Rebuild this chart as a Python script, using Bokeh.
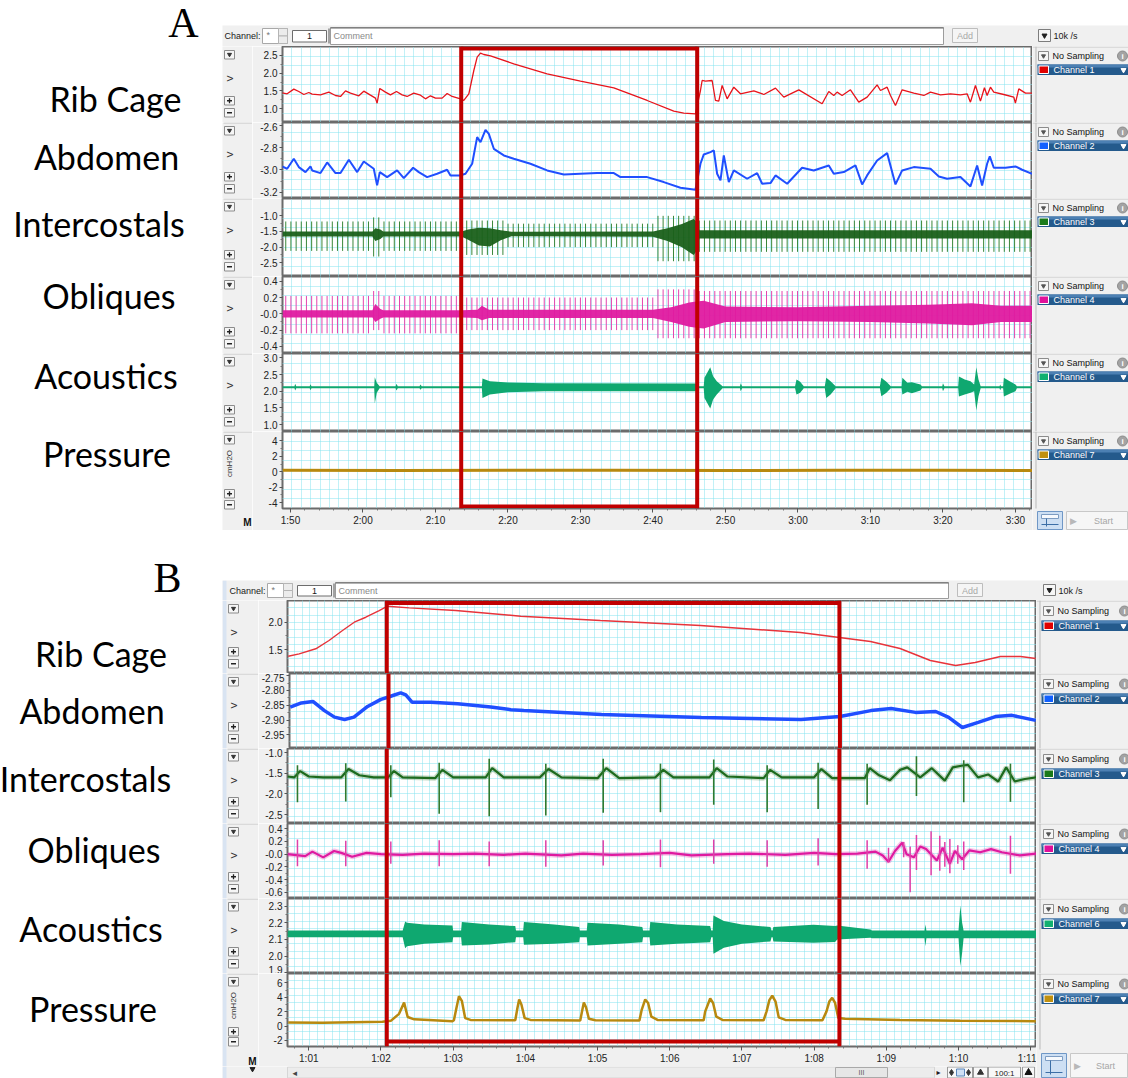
import numpy as np
from math import pi
from bokeh.plotting import figure
from bokeh.layouts import row, column
from bokeh.models import Range1d, FixedTicker, Span, CustomJSTickFormatter, Plot
from bokeh.core.properties import value
from bokeh.embed import file_html
from bokeh.resources import INLINE

# ---------------------------------------------------------------- data
channel_names = ["Rib Cage", "Abdomen", "Intercostals", "Obliques", "Acoustics", "Pressure"]
channel_ids = ["Channel 1", "Channel 2", "Channel 3", "Channel 4", "Channel 6", "Channel 7"]
channel_units = ["V", "V", "V", "V", "V", "cmH2O"]
trace_colors = ["#e8141b", "#1f4fff", "#1d6a1d", "#df1aa0", "#0fa870", "#b8890f"]
icon_colors = ["#e00000", "#1060ff", "#1a7a1a", "#e0109a", "#10b070", "#c09010"]
panel_letters = ["A", "B"]

# ---- panel A (time in seconds)
time_ticks_a = [110, 120, 130, 140, 150, 160, 170, 180, 190, 200, 210]
time_labels_a = ["1:50", "2:00", "2:10", "2:20", "2:30", "2:40", "2:50", "3:00", "3:10", "3:20", "3:30"]
view_a = [108.9, 212.35]
highlight_a = [133.55, 166.1]
yview_a = [[0.607, 2.754], [-3.257, -2.572], [-2.938, -0.446], [-0.487, 0.458], [0.793, 3.129], [-4.77, 5.23]]
yticks_a = [[1.0, 1.5, 2.0, 2.5], [-3.2, -3.0, -2.8, -2.6], [-2.5, -2.0, -1.5, -1.0],
            [-0.4, -0.2, 0.0, 0.2, 0.4], [1.0, 1.5, 2.0, 2.5, 3.0], [-4, -2, 0, 2, 4]]
ylabels_a = [["1.0", "1.5", "2.0", "2.5"], ["-3.2", "-3.0", "-2.8", "-2.6"], ["-2.5", "-2.0", "-1.5", "-1.0"],
             ["-0.4", "-0.2", "-0.0", "0.2", "0.4"], ["1.0", "1.5", "2.0", "2.5", "3.0"], ["-4", "-2", "0", "2", "4"]]

rib_a_t = [108.85, 109.54, 110.46, 111.15, 111.84, 112.53, 112.99, 114.14, 115.29, 116.21, 116.90, 117.59,
           118.28, 119.43, 120.11, 121.03, 121.72, 121.95, 122.32, 123.10, 123.79, 124.62, 125.40, 126.09,
           127.01, 127.93, 128.62, 129.31, 130.00, 130.92, 131.61, 132.30, 133.45, 133.91, 134.60, 135.29,
           135.75, 136.21, 136.67, 137.59, 140.80, 145.40, 150.00, 154.60, 159.20, 162.87, 164.25, 165.86,
           166.55, 166.78, 167.24, 168.16, 168.62, 169.08, 169.54, 170.23, 171.15, 172.07, 173.91, 175.29,
           176.90, 178.05, 180.12, 183.33, 184.25, 184.94, 185.40, 186.09, 187.24, 188.39, 189.54, 190.92,
           191.38, 192.30, 192.76, 193.45, 194.37, 195.98, 197.36, 198.28, 199.66, 201.03, 202.41, 203.33,
           203.79, 204.48, 205.17, 205.72, 206.09, 206.55, 207.01, 208.39, 209.77, 209.99, 210.46, 211.38, 212.30]
rib_a_v = [1.445, 1.417, 1.549, 1.483, 1.398, 1.455, 1.408, 1.389, 1.464, 1.370, 1.342, 1.502,
           1.436, 1.361, 1.492, 1.379, 1.295, 1.153, 1.568, 1.464, 1.389, 1.483, 1.389, 1.342,
           1.436, 1.379, 1.276, 1.361, 1.295, 1.295, 1.427, 1.342, 1.276, 1.229, 1.417, 2.076,
           2.453, 2.566, 2.528, 2.491, 2.265, 1.982, 1.775, 1.587, 1.229, 0.927, 0.871, 0.852,
           1.511, 1.794, 1.775, 1.794, 1.229, 1.210, 1.653, 1.276, 1.605, 1.417, 1.502, 1.398,
           1.577, 1.323, 1.530, 1.135, 1.483, 1.370, 1.464, 1.370, 1.530, 1.182, 1.323, 1.671,
           1.511, 1.605, 1.370, 1.088, 1.530, 1.436, 1.370, 1.464, 1.389, 1.417, 1.389, 1.417,
           1.182, 1.653, 1.210, 1.587, 1.370, 1.605, 1.464, 1.398, 1.323, 1.153, 1.558, 1.436, 1.436]

abd_a_t = [108.85, 109.54, 110.46, 111.15, 112.07, 112.76, 112.99, 114.14, 115.06, 116.21, 116.90, 118.05,
           119.20, 120.11, 121.49, 121.95, 122.32, 123.33, 124.71, 125.63, 126.92, 127.70, 128.85, 130.23,
           131.61, 132.07, 133.45, 134.14, 135.06, 135.75, 136.21, 136.90, 137.36, 138.05, 139.43, 140.80,
           143.10, 145.40, 147.70, 152.30, 154.60, 155.52, 159.20, 161.49, 163.79, 165.86,
           166.55, 167.01, 167.93, 168.39, 168.85, 169.31, 169.77, 170.46, 171.15, 172.99, 174.37, 175.06,
           176.21, 176.90, 178.51, 180.57, 182.18, 184.25, 184.94, 186.32, 187.93, 188.85, 189.54, 190.92,
           192.30, 193.45, 194.37, 195.98, 198.28, 199.43, 200.57, 202.41, 203.79, 204.71, 205.40, 206.09,
           206.46, 207.01, 208.62, 209.99, 210.92, 212.30]
abd_a_v = [-2.968, -2.989, -2.899, -2.974, -3.019, -2.968, -3.004, -3.028, -2.932, -3.028, -3.028, -2.908,
           -3.019, -2.923, -2.989, -3.139, -3.019, -3.064, -3.004, -3.073, -2.980, -3.019, -3.064, -3.034,
           -2.998, -3.049, -3.049, -3.034, -2.944, -2.704, -2.749, -2.638, -2.674, -2.809, -2.869, -2.899,
           -2.944, -3.004, -3.040, -3.028, -3.028, -3.064, -3.064, -3.109, -3.160, -3.178,
           -2.944, -2.860, -2.839, -2.824, -3.034, -3.094, -2.869, -3.109, -3.004, -3.079, -3.028, -3.124,
           -3.118, -3.049, -3.124, -2.980, -3.004, -2.959, -3.034, -3.019, -2.959, -3.130, -3.049, -2.914,
           -2.848, -3.130, -3.004, -2.974, -2.989, -3.058, -3.079, -3.064, -3.148, -2.959, -3.139, -2.944,
           -2.878, -2.980, -2.980, -2.968, -2.998, -3.034]

# heart-beat artefacts visible in both EMG channels of panel A
beats_a = [109.35, 110.06, 110.78, 111.49, 112.20, 112.92, 113.63, 114.34, 115.05, 115.77,
           116.48, 117.19, 117.91, 118.62, 119.33, 120.05, 120.76, 121.47, 122.18, 122.90,
           123.61, 124.32, 125.04, 125.75, 126.46, 127.18, 127.89, 128.60, 129.31, 130.03,
           130.74, 131.45, 132.17, 132.88, 133.59, 134.31, 135.02, 135.73, 136.44, 137.16,
           137.87, 138.58, 139.30, 140.01, 140.72, 141.44, 142.15, 142.86, 143.57, 144.29,
           145.00, 145.71, 146.43, 147.14, 147.85, 148.57, 149.28, 149.99, 150.70, 151.42,
           152.13, 152.84, 153.56, 154.27, 154.98, 155.70, 156.41, 157.12, 157.83, 158.55,
           159.26, 159.97, 160.69, 161.40, 162.11, 162.83, 163.54, 164.25, 164.96, 165.68,
           166.39, 167.10, 167.82, 168.53, 169.24, 169.96, 170.67, 171.38, 172.09, 172.81,
           173.52, 174.23, 174.95, 175.66, 176.37, 177.09, 177.80, 178.51, 179.22, 179.94,
           180.65, 181.36, 182.08, 182.79, 183.50, 184.22, 184.93, 185.64, 186.35, 187.07,
           187.78, 188.49, 189.21, 189.92, 190.63, 191.35, 192.06, 192.77, 193.48, 194.20,
           194.91, 195.62, 196.34, 197.05, 197.76, 198.48, 199.19, 199.90, 200.61, 201.33,
           202.04, 202.75, 203.47, 204.18, 204.89, 205.61, 206.32, 207.03, 207.74, 208.46,
           209.17, 209.88, 210.60, 211.31, 212.02]

ic_a_t = [108.9, 121.3, 121.7, 122.4, 122.8, 133.6, 134.5, 136.0, 137.5, 139.0, 140.5, 160.0,
          162.0, 164.0, 165.6, 166.1, 166.4, 212.35]
ic_a_hi = [-1.50, -1.50, -1.40, -1.44, -1.50, -1.50, -1.44, -1.38, -1.40, -1.46, -1.51, -1.50,
           -1.40, -1.26, -1.10, -1.20, -1.46, -1.46]
ic_a_lo = [-1.66, -1.66, -1.80, -1.74, -1.66, -1.66, -1.76, -1.95, -1.98, -1.78, -1.65, -1.67,
           -1.80, -2.00, -2.25, -2.10, -1.72, -1.72]
ic_a_zone_start = [108.9, 121.3, 122.6, 133.6, 139.5, 160.5, 166.2]
ic_a_zone_top = [-1.18, -1.05, -1.18, -1.15, -1.25, -1.00, -1.15]
ic_a_zone_bot = [-2.12, -2.30, -2.12, -2.25, -2.00, -2.45, -2.15]

ob_a_t = [108.9, 121.3, 121.7, 122.4, 122.8, 133.6, 135.8, 136.4, 137.4, 160.0, 162.5, 165.0,
          166.0, 167.0, 170.0, 180.0, 190.0, 198.0, 204.0, 208.0, 212.35]
ob_a_hi = [0.045, 0.045, 0.12, 0.06, 0.045, 0.045, 0.05, 0.10, 0.05, 0.05, 0.08, 0.14,
           0.15, 0.16, 0.09, 0.08, 0.10, 0.11, 0.13, 0.10, 0.10]
ob_a_lo = [-0.045, -0.045, -0.10, -0.06, -0.045, -0.045, -0.05, -0.08, -0.05, -0.05, -0.10, -0.16,
           -0.17, -0.18, -0.10, -0.09, -0.10, -0.12, -0.14, -0.10, -0.10]
ob_a_zone_start = [108.9, 121.3, 122.6, 133.6, 160.5, 166.2]
ob_a_zone_top = [0.22, 0.28, 0.22, 0.20, 0.30, 0.28]
ob_a_zone_bot = [-0.24, -0.20, -0.24, -0.20, -0.30, -0.30]

ac_a_t = [108.9, 110.55, 110.65, 110.8, 112.65, 112.76, 112.9, 121.55, 121.63, 121.9, 122.3, 124.5,
          124.62, 124.8, 127.8, 127.93, 128.1, 136.4, 136.48, 137.5, 140.0, 145.0, 165.9, 166.0,
          167.0, 167.1, 167.9, 168.3, 168.8, 169.6, 172.0, 172.1, 172.3, 179.6, 179.8, 180.3,
          180.8, 183.7, 183.9, 184.5, 185.2, 191.3, 191.5, 192.2, 192.8, 194.3, 194.4, 195.1,
          195.7, 196.9, 197.1, 199.9, 200.0, 200.2, 202.1, 202.2, 203.0, 203.8, 204.3, 204.6,
          204.9, 205.2, 207.8, 207.9, 208.0, 208.3, 208.4, 209.2, 210.0, 210.2, 212.35]
ac_a_hi = [2.15, 2.15, 2.22, 2.15, 2.15, 2.21, 2.15, 2.15, 2.42, 2.25, 2.15, 2.15,
           2.22, 2.15, 2.15, 2.20, 2.15, 2.15, 2.38, 2.30, 2.26, 2.24, 2.23, 2.15,
           2.15, 2.40, 2.72, 2.45, 2.30, 2.15, 2.15, 2.24, 2.15, 2.15, 2.35, 2.28,
           2.15, 2.15, 2.40, 2.30, 2.15, 2.15, 2.40, 2.28, 2.15, 2.15, 2.40, 2.25,
           2.27, 2.20, 2.15, 2.15, 2.24, 2.15, 2.15, 2.44, 2.35, 2.30, 2.20, 2.72,
           2.35, 2.15, 2.15, 2.20, 2.15, 2.15, 2.40, 2.30, 2.20, 2.15, 2.15]
ac_a_lo = [2.09, 2.09, 2.02, 2.09, 2.09, 2.03, 2.09, 2.09, 1.63, 1.95, 2.09, 2.09,
           2.02, 2.09, 2.09, 2.04, 2.09, 2.09, 1.80, 1.90, 1.97, 2.00, 2.00, 2.09,
           2.09, 1.80, 1.48, 1.75, 1.90, 2.09, 2.09, 2.00, 2.09, 2.09, 1.90, 1.95,
           2.09, 2.09, 1.80, 1.90, 2.09, 2.09, 1.85, 1.95, 2.09, 2.09, 1.90, 1.98,
           1.94, 2.02, 2.09, 2.09, 2.00, 2.09, 2.09, 1.84, 1.90, 1.95, 2.00, 1.42,
           1.85, 2.09, 2.09, 2.03, 2.09, 2.09, 1.84, 1.92, 2.00, 2.09, 2.09]

pr_a_t = [108.9, 125.0, 140.0, 155.0, 170.0, 185.0, 200.0, 212.35]
pr_a_v = [0.20, 0.15, 0.20, 0.20, 0.15, 0.20, 0.20, 0.15]

# ---- panel B
time_ticks_b = [61, 62, 63, 64, 65, 66, 67, 68, 69, 70, 71]
time_labels_b = ["1:01", "1:02", "1:03", "1:04", "1:05", "1:06", "1:07", "1:08", "1:09", "1:10", "1:11"]
view_b = [60.705, 71.08]
highlight_b = [62.08, 68.35]
yview_b = [[1.062, 2.397], [-2.996, -2.7426], [-2.712, -0.905], [-0.698, 0.483], [1.896, 2.3455], [-2.84, 7.29]]
yticks_b = [[1.5, 2.0], [-2.95, -2.90, -2.85, -2.80, -2.75], [-2.5, -2.0, -1.5, -1.0],
            [-0.6, -0.4, -0.2, 0.0, 0.2, 0.4], [1.9, 2.0, 2.1, 2.2, 2.3], [-2, 0, 2, 4, 6]]
ylabels_b = [["1.5", "2.0"], ["-2.95", "-2.90", "-2.85", "-2.80", "-2.75"], ["-2.5", "-2.0", "-1.5", "-1.0"],
             ["-0.6", "-0.4", "-0.2", "-0.0", "0.2", "0.4"], ["1.9", "2.0", "2.1", "2.2", "2.3"],
             ["-2", "0", "2", "4", "6"]]

rib_b_t = [60.715, 60.867, 61.097, 61.28, 61.467, 61.63, 61.79, 61.975, 62.09, 62.39, 63.036, 63.936,
           65.04, 66.425, 67.81, 68.35, 68.78, 69.19, 69.61, 69.96, 70.23, 70.58, 70.86, 71.07]
rib_b_v = [1.378, 1.422, 1.514, 1.665, 1.848, 2.0, 2.091, 2.214, 2.293, 2.263, 2.214, 2.11,
           2.031, 1.94, 1.812, 1.72, 1.647, 1.519, 1.30, 1.208, 1.263, 1.373, 1.373, 1.336]

abd_b_t = [60.715, 60.87, 61.03, 61.19, 61.33, 61.47, 61.6, 61.79, 61.975, 62.07, 62.14, 62.25,
           62.32, 62.41, 62.67, 63.04, 63.5, 63.78, 63.96, 65.04, 66.425, 67.81, 68.35, 68.78,
           69.06, 69.40, 69.68, 69.86, 70.05, 70.27, 70.51, 70.74, 71.07]
abd_b_v = [-2.856, -2.842, -2.837, -2.868, -2.890, -2.898, -2.890, -2.854, -2.830, -2.823, -2.817, -2.808,
           -2.815, -2.840, -2.840, -2.845, -2.856, -2.865, -2.868, -2.881, -2.891, -2.898, -2.888, -2.868,
           -2.861, -2.874, -2.871, -2.891, -2.925, -2.908, -2.888, -2.884, -2.901]

ic_b_t = [60.705, 60.80, 60.88, 61.00, 61.20, 61.45, 61.55, 61.70, 61.90, 62.10, 62.18, 62.30,
          62.75, 62.85, 63.00, 63.45, 63.54, 63.70, 64.20, 64.32, 64.50, 65.00, 65.12, 65.30,
          65.80, 65.91, 66.05, 66.55, 66.65, 66.80, 67.30, 67.39, 67.55, 68.00, 68.10, 68.25,
          68.70, 68.77, 68.90, 69.05, 69.19, 69.29, 69.47, 69.63, 69.81, 69.92, 70.04, 70.13,
          70.27, 70.41, 70.55, 70.66, 70.78, 70.92, 71.08]
ic_b_v = [-1.58, -1.60, -1.45, -1.58, -1.60, -1.60, -1.40, -1.55, -1.60, -1.60, -1.45, -1.60,
          -1.62, -1.42, -1.60, -1.60, -1.38, -1.60, -1.60, -1.40, -1.60, -1.62, -1.38, -1.62,
          -1.60, -1.42, -1.60, -1.60, -1.38, -1.58, -1.62, -1.42, -1.60, -1.60, -1.40, -1.62,
          -1.62, -1.38, -1.55, -1.67, -1.42, -1.36, -1.60, -1.38, -1.68, -1.36, -1.32, -1.30,
          -1.60, -1.53, -1.70, -1.36, -1.70, -1.64, -1.60]
ic_b_beats = [60.843, 61.512, 62.136, 62.806, 63.499, 64.283, 65.078, 65.871, 66.609, 67.349,
              68.055, 68.734, 69.417, 70.072, 70.719]
ic_b_top = [-1.31, -1.26, -1.31, -1.25, -1.15, -1.27, -1.15, -1.27, -1.17, -1.31, -1.25, -1.27, -1.09, -1.19, -1.27]
ic_b_bot = [-2.20, -2.18, -2.08, -2.48, -2.54, -2.52, -2.45, -2.44, -2.26, -2.44, -2.36, -2.26, -2.05, -2.20, -2.19]

ob_b_t = [60.705, 60.95, 61.05, 61.20, 61.35, 61.45, 61.60, 61.80, 62.00, 62.30, 62.60, 63.00,
          63.30, 63.70, 64.00, 64.50, 64.80, 65.20, 65.60, 66.00, 66.30, 66.80, 67.10, 67.60,
          68.00, 68.30, 68.60, 68.85, 68.95, 69.03, 69.12, 69.22, 69.28, 69.38, 69.47, 69.55,
          69.70, 69.78, 69.88, 69.95, 70.05, 70.15, 70.30, 70.45, 70.60, 70.85, 71.08]
ob_b_v = [0.00, -0.03, 0.04, -0.05, 0.05, 0.02, -0.04, 0.02, 0.00, -0.01, 0.01, 0.00,
          0.01, -0.01, 0.01, -0.02, 0.01, -0.01, 0.00, 0.02, -0.02, 0.00, 0.01, -0.01,
          0.02, 0.00, 0.01, 0.04, -0.02, -0.12, 0.05, 0.18, 0.00, -0.05, 0.12, 0.08,
          -0.10, 0.10, -0.15, 0.05, -0.08, 0.06, 0.03, 0.08, 0.03, -0.02, 0.01]
ob_b_spike_t = [60.843, 61.512, 62.136, 62.806, 63.499, 64.283, 65.078, 65.871, 66.609, 67.349,
                68.055, 68.734, 69.03, 69.24, 69.33, 69.417, 69.62, 69.74, 69.81, 69.88, 69.99,
                70.072, 70.719]
ob_b_spike_top = [0.23, 0.21, 0.20, 0.22, 0.20, 0.22, 0.22, 0.23, 0.23, 0.22, 0.25, 0.22, 0.10, 0.19,
                  0.12, 0.30, 0.36, 0.29, 0.19, 0.24, 0.14, 0.20, 0.29]
ob_b_spike_bot = [-0.19, -0.19, -0.15, -0.19, -0.19, -0.20, -0.18, -0.205, -0.15, -0.20, -0.18, -0.23,
                  -0.13, -0.05, -0.60, -0.25, -0.33, -0.26, -0.20, -0.30, -0.15, -0.25, -0.31]

ac_b_t = [60.705, 62.30, 62.335, 62.36, 62.60, 62.99, 63.00, 63.11, 63.12, 63.50, 63.86, 63.87,
          63.97, 63.98, 64.40, 64.745, 64.755, 64.85, 64.86, 65.30, 65.62, 65.63, 65.72, 65.73,
          66.10, 66.56, 66.575, 66.595, 66.605, 66.75, 67.00, 67.395, 67.41, 67.425, 67.435, 67.99,
          68.29, 68.32, 68.78, 68.80, 69.53, 69.54, 69.555, 70.00, 70.025, 70.05, 70.07, 71.08]
ac_b_hi = [2.154, 2.154, 2.208, 2.20, 2.19, 2.184, 2.154, 2.154, 2.204, 2.19, 2.18, 2.154,
           2.154, 2.204, 2.19, 2.174, 2.154, 2.154, 2.20, 2.19, 2.174, 2.154, 2.154, 2.204,
           2.19, 2.18, 2.154, 2.154, 2.244, 2.21, 2.19, 2.174, 2.154, 2.154, 2.174, 2.188,
           2.18, 2.184, 2.16, 2.154, 2.154, 2.19, 2.154, 2.154, 2.304, 2.20, 2.154, 2.154]
ac_b_lo = [2.114, 2.114, 2.048, 2.06, 2.075, 2.084, 2.114, 2.114, 2.064, 2.07, 2.084, 2.114,
           2.114, 2.068, 2.075, 2.084, 2.114, 2.114, 2.064, 2.075, 2.084, 2.114, 2.114, 2.064,
           2.075, 2.084, 2.114, 2.114, 2.014, 2.05, 2.075, 2.088, 2.114, 2.114, 2.088, 2.08,
           2.085, 2.10, 2.11, 2.108, 2.108, 2.06, 2.108, 2.108, 1.94, 2.02, 2.108, 2.108]

pr_b_t = [60.715, 61.19, 62.02, 62.136, 62.25, 62.32, 62.37, 62.46, 62.99, 63.01, 63.045, 63.08,
          63.12, 63.166, 63.24, 63.86, 63.89, 63.914, 63.945, 63.99, 64.07, 64.76, 64.79, 64.81,
          64.84, 64.88, 64.97, 65.58, 65.61, 65.66, 65.70, 65.745, 65.83, 66.47, 66.49, 66.56,
          66.60, 66.645, 66.73, 67.30, 67.34, 67.38, 67.42, 67.465, 67.51, 67.60, 68.115, 68.17,
          68.21, 68.25, 68.29, 68.335, 68.43, 69.19, 70.025, 71.07]
pr_b_v = [0.49, 0.45, 0.58, 0.72, 1.69, 3.25, 1.25, 0.93, 0.67, 0.8, 2.5, 4.13,
          3.5, 1.1, 0.85, 0.8, 2.5, 3.69, 3.0, 1.1, 0.85, 0.78, 2.3, 3.25,
          2.6, 1.0, 0.8, 0.78, 2.2, 3.69, 3.2, 1.3, 0.85, 0.8, 2.0, 3.83,
          3.2, 1.3, 0.85, 0.8, 2.0, 3.6, 4.23, 3.4, 1.2, 0.85, 0.8, 2.0,
          3.4, 3.92, 3.2, 1.12, 1.0, 0.85, 0.75, 0.67]

for a, b in [(rib_a_t, rib_a_v), (abd_a_t, abd_a_v), (ic_a_t, ic_a_hi), (ic_a_t, ic_a_lo), (ob_a_t, ob_a_hi),
             (ob_a_t, ob_a_lo), (ac_a_t, ac_a_hi), (ac_a_t, ac_a_lo), (pr_a_t, pr_a_v), (rib_b_t, rib_b_v),
             (abd_b_t, abd_b_v), (ic_b_t, ic_b_v), (ic_b_beats, ic_b_top), (ic_b_beats, ic_b_bot),
             (ob_b_t, ob_b_v), (ob_b_spike_t, ob_b_spike_top), (ob_b_spike_t, ob_b_spike_bot),
             (ac_b_t, ac_b_hi), (ac_b_t, ac_b_lo), (pr_b_t, pr_b_v)]:
    assert len(a) == len(b), (len(a), len(b))

# ---------------------------------------------------------------- style helpers
CHROME = "#f0f0f0"
RED = "#c00000"
UI = "Liberation Sans"
GRID = "#84e3ee"
SEP = "#6b6b6b"
NOALIGN = {"frame_align": False} if "frame_align" in Plot.properties() else {}


def canvas(w, h, bg=CHROME):
    c = figure(width=w, height=h, x_range=Range1d(0, w), y_range=Range1d(h, 0),
               toolbar_location=None, output_backend="svg", min_border=0,
               x_axis_location=None, y_axis_location=None,
               background_fill_color=bg, border_fill_color=bg, outline_line_color=None, **NOALIGN)
    c.xgrid.visible = False
    c.ygrid.visible = False
    return c


def txt(c, x, y, s, size="9px", color="#1a1a1a", align="left", font=UI, style="normal", angle=0.0,
        baseline="middle"):
    c.text(x=[x], y=[y], text=[s], text_font=value(font), text_font_size=size, text_color=color,
           text_align=align, text_baseline=baseline, text_font_style=style, angle=angle)


def box(c, x0, y0, x1, y1, fill="#f6f6f6", line="#8c8c8c", lw=1):
    c.quad(left=[x0], right=[x1], top=[y0], bottom=[y1], fill_color=fill, line_color=line, line_width=lw)


def tri(c, x, y, size=4, color="#333333"):
    c.scatter([x], [y], marker="inverted_triangle", size=size, fill_color=color, line_color=color)


def fmt(tv, tl):
    return CustomJSTickFormatter(args=dict(tv=list(tv), tl=list(tl)), code="""
        for (let i = 0; i < tv.length; i++) { if (Math.abs(tv[i] - tick) < 1e-6) { return tl[i]; } }
        return "";""")


def style_axis(a):
    a.axis_line_color = None
    a.major_tick_line_color = "#555555"
    a.major_tick_out = 3
    a.major_tick_in = 0
    a.minor_tick_line_color = "#777777"
    a.minor_tick_out = 2
    a.minor_tick_in = 0
    a.major_label_text_font = UI
    a.major_label_text_font_size = "10px"
    a.major_label_text_color = "#222222"
    a.major_label_standoff = 2


def chan_plot(xr, yv, frame_w, frame_h, left_b, yt, yl, ngx, ngy, bottom=0, xt=None, xl=None, xminor=None):
    y0, y1 = yv
    p = figure(width=left_b + frame_w, height=frame_h + bottom, x_range=xr, y_range=Range1d(y0, y1),
               toolbar_location=None, output_backend="svg", min_border=0, min_border_left=left_b,
               min_border_right=0, min_border_top=0, min_border_bottom=bottom,
               x_axis_location="below" if bottom else None,
               background_fill_color="white", border_fill_color=CHROME,
               outline_line_color=SEP, outline_line_width=2, **NOALIGN)
    p.xgrid.ticker = FixedTicker(ticks=list(np.linspace(xr.start, xr.end, ngx + 1)))
    p.ygrid.ticker = FixedTicker(ticks=list(np.linspace(y0, y1, ngy + 1)))
    p.grid.grid_line_color = GRID
    p.grid.grid_line_dash = "1 1"
    p.grid.grid_line_width = 1
    ya = p.yaxis[0]
    ya.ticker = FixedTicker(ticks=yt, minor_ticks=[(a + b) / 2 for a, b in zip(yt[:-1], yt[1:])])
    ya.formatter = fmt(yt, yl)
    style_axis(ya)
    if bottom:
        xa = p.xaxis[0]
        xa.ticker = FixedTicker(ticks=xt, minor_ticks=xminor)
        xa.formatter = fmt(xt, xl)
        style_axis(xa)
        xa.major_tick_out = 4
        xa.minor_tick_out = 2
        xa.axis_line_color = SEP
    return p


def add_box(p, hl, yv, frame_h, top_px=None, bottom_px=None):
    for t in hl:
        p.add_layout(Span(location=t, dimension="height", line_color=RED, line_width=4))
    y0, y1 = yv
    k = (y1 - y0) / frame_h
    if top_px is not None:
        p.segment(x0=[hl[0]], x1=[hl[1]], y0=[y1 - top_px * k], y1=[y1 - top_px * k], line_color=RED, line_width=4)
    if bottom_px is not None:
        p.segment(x0=[hl[0]], x1=[hl[1]], y0=[y0 + bottom_px * k], y1=[y0 + bottom_px * k], line_color=RED,
                  line_width=4)


def left_chrome(w, h, fh, unit, x0, strip, sep, plus_off=26, minus_off=14):
    c = canvas(w, h)
    if strip:
        c.quad(left=[0], right=[4], top=[0], bottom=[h], fill_color="#d9e4f2", line_color=None)
    if sep:
        c.segment(x0=[x0 - 1], x1=[w], y0=[0.5], y1=[0.5], line_color="#c4c4c4")
    box(c, x0, 4, x0 + 10, 12.5)
    tri(c, x0 + 5, 8, 4)
    txt(c, x0 + 5, 32, unit, "9px" if unit == "V" else "8px", "#333333", align="center", angle=pi / 2)
    py = fh - plus_off
    box(c, x0, py, x0 + 10, py + 8.5)
    c.segment(x0=[x0 + 2.5, x0 + 5], x1=[x0 + 7.5, x0 + 5], y0=[py + 4.25, py + 1.75],
              y1=[py + 4.25, py + 6.75], line_color="#222222", line_width=1.3)
    my = fh - minus_off
    box(c, x0, my, x0 + 10, my + 8.5)
    c.segment(x0=[x0 + 2.5], x1=[x0 + 7.5], y0=[my + 4.25], y1=[my + 4.25], line_color="#222222", line_width=1.3)
    return c


def right_chrome(w, h, fh, cid, icol, bx, by, bar_y, info_x):
    c = canvas(w, h)
    c.segment(x0=[0], x1=[w], y0=[0.5], y1=[0.5], line_color="#c6c6c6")
    c.segment(x0=[3.5], x1=[3.5], y0=[0], y1=[fh], line_color="#b9b9b9")
    box(c, bx, by, bx + 10, by + 9)
    tri(c, bx + 5, by + 4.5, 4, "#555555")
    txt(c, bx + 14, by + 4.5, "No Sampling", "9px", "#111111")
    c.scatter([info_x], [by + 4.5], marker="circle", size=10, fill_color="#a3a3a3", line_color="#8c8c8c")
    txt(c, info_x, by + 4.5, "i", "8px", "white", align="center", style="bold")
    c.quad(left=[5], right=[w], top=[bar_y], bottom=[bar_y + 10.5], fill_color="#245a8c", line_color=None)
    c.quad(left=[5], right=[w], top=[bar_y], bottom=[bar_y + 3], fill_color="#4c80b3", line_color=None)
    c.quad(left=[bx + 0.5], right=[bx + 10], top=[bar_y + 1.5], bottom=[bar_y + 9], fill_color=icol,
           line_color="white", line_width=1)
    txt(c, bx + 15, bar_y + 5.5, cid, "9px", "white")
    tri(c, w - 5, bar_y + 5.5, 5, "white")
    return c


def start_area(c, y0, y1, w):
    box(c, 5, y0 + 3, 30, y1 - 1, "#cddff3", "#6f97c6")
    c.quad(left=[9], right=[26], top=[y0 + 6], bottom=[y0 + 10], fill_color="#f6f9fd", line_color="#7d9cc2")
    c.segment(x0=[9, 14], x1=[26, 14], y0=[y1 - 6, y0 + 10], y1=[y1 - 6, y1 - 4], line_color="#3c6ea6")
    box(c, 34, y0 + 3, w - 1, y1 - 1, "#f6f6f6", "#c8c8c8")
    txt(c, 41, (y0 + y1) / 2 + 1, "\u25b6", "9px", "#b8b8b8", align="center", font="DejaVu Sans")
    txt(c, (34 + w) / 2 + 6, (y0 + y1) / 2 + 1, "Start", "9px", "#a6a6a6", align="center")


def header(w, h, off, strip):
    c = canvas(w, h)
    if strip:
        c.quad(left=[0], right=[4], top=[0], bottom=[h], fill_color="#d9e4f2", line_color=None)
    m = h / 2
    txt(c, off + 2, m, "Channel:", "9px", "#1a1a1a")
    box(c, off + 40, 3, off + 65, h - 3, "white", "#a8a8a8")
    txt(c, off + 44, m - 1, "*", "9px", "#777777")
    box(c, off + 56, 3, off + 65, m, "#ececec", "#b5b5b5")
    box(c, off + 56, m, off + 65, h - 3, "#ececec", "#b5b5b5")
    box(c, off + 70, 5, off + 104, h - 4.5, "white", "#6d6d6d")
    txt(c, off + 87, m, "1", "9px", "#1a1a1a", align="center")
    c.segment(x0=[off + 106.5], x1=[off + 106.5], y0=[3], y1=[h - 3], line_color="#555555")
    box(c, off + 108, 2, off + 721, h - 2, "white", "#9c9c9c")
    c.segment(x0=[off + 108], x1=[off + 721], y0=[2.5], y1=[2.5], line_color="#666666")
    txt(c, off + 111, m, "Comment", "9px", "#8a8a8a")
    box(c, off + 730, 3, off + 755, h - 4, "#f5f5f5", "#bdbdbd")
    txt(c, off + 742.5, m, "Add", "9px", "#a8a8a8", align="center")
    box(c, off + 816, 4, off + 828, h - 5, "#f6f6f6", "#7d7d7d")
    tri(c, off + 822, m - 0.5, 5, "#222222")
    txt(c, off + 831, m, "10k /s", "9px", "#1a1a1a")
    return c


def zone_values(starts, vals, beats):
    idx = np.clip(np.searchsorted(np.array(starts), np.array(beats), side="right") - 1, 0, None)
    return list(np.array(vals)[idx])


# ---------------------------------------------------------------- left label column
lab = canvas(222, 1078, "white")
label_pos_a = [(115, 98), (106, 156), (98.5, 223), (108.5, 295), (105.5, 375), (106.5, 453)]
label_pos_b = [(100.5, 653), (91.5, 710), (85, 778), (93.5, 849), (90.5, 928), (92.5, 1008)]
for (x, y), s in zip(label_pos_a, channel_names):
    txt(lab, x, y, s, "34px", "#000000", align="center", font="Lato")
for (x, y), s in zip(label_pos_b, channel_names):
    txt(lab, x, y, s, "34px", "#000000", align="center", font="Lato")
txt(lab, 183, 22, panel_letters[0], "42px", "#000000", align="center", font="Liberation Serif")
txt(lab, 167, 577, panel_letters[1], "42px", "#000000", align="center", font="Liberation Serif")

# ---------------------------------------------------------------- panel A
A_h = [76, 76, 78, 77, 78, 77]
xrA = Range1d(*view_a)
minor_a = [t for t in range(108, 213, 2) if t not in time_ticks_a]
rowsA = []
for i in range(6):
    last = i == 5
    bot = 22 if last else 0
    p = chan_plot(xrA, yview_a[i], 750, A_h[i], 30, yticks_a[i], ylabels_a[i], 80, 8, bottom=bot,
                  xt=time_ticks_a, xl=time_labels_a, xminor=minor_a)
    col = trace_colors[i]
    if i == 0:
        p.line(rib_a_t, rib_a_v, line_color=col, line_width=1.3)
    elif i == 1:
        p.line(abd_a_t, abd_a_v, line_color=col, line_width=2)
    elif i == 2:
        p.segment(x0=beats_a, x1=beats_a, y0=zone_values(ic_a_zone_start, ic_a_zone_bot, beats_a),
                  y1=zone_values(ic_a_zone_start, ic_a_zone_top, beats_a), line_color="#3a873a", line_width=1)
        p.varea(x=ic_a_t, y1=ic_a_lo, y2=ic_a_hi, fill_color="#1a601a", fill_alpha=0.95)
    elif i == 3:
        p.segment(x0=beats_a, x1=beats_a, y0=zone_values(ob_a_zone_start, ob_a_zone_bot, beats_a),
                  y1=zone_values(ob_a_zone_start, ob_a_zone_top, beats_a), line_color="#e444ae", line_width=1)
        p.varea(x=ob_a_t, y1=ob_a_lo, y2=ob_a_hi, fill_color=col, fill_alpha=0.95)
    elif i == 4:
        p.varea(x=ac_a_t, y1=ac_a_lo, y2=ac_a_hi, fill_color=col)
    else:
        p.line(pr_a_t, pr_a_v, line_color=col, line_width=3)
    add_box(p, highlight_a, yview_a[i], A_h[i], top_px=2 if i == 0 else None, bottom_px=2 if last else None)
    if last:
        lc = left_chrome(30, A_h[i] + bot, A_h[i], channel_units[i], 2, False, True, 19, 8)
        txt(lc, 25, A_h[i] + 14, "M", "10px", "#111111", align="center", style="bold")
    else:
        lc = left_chrome(30, A_h[i], A_h[i], channel_units[i], 2, False, i > 0)
    rc = right_chrome(96, A_h[i] + bot, A_h[i], channel_ids[i], icon_colors[i], 6, 5, 18, 90)
    if last:
        start_area(rc, A_h[i], A_h[i] + bot, 96)
    rowsA.append(row(lc, p, rc))

# ---------------------------------------------------------------- panel B
B_h = [73, 75, 75, 75, 75, 76]
xrB = Range1d(*view_b)
minor_b = [round(60.8 + 0.2 * k, 2) for k in range(52) if abs((60.8 + 0.2 * k) - round(60.8 + 0.2 * k)) > 1e-6]
rowsB = []
for i in range(6):
    last = i == 5
    bot = 17 if last else 0
    p = chan_plot(xrB, yview_b[i], 749, B_h[i], 29, yticks_b[i], ylabels_b[i], 100, 10, bottom=bot,
                  xt=time_ticks_b, xl=time_labels_b, xminor=minor_b)
    col = trace_colors[i]
    if i == 0:
        p.line(rib_b_t, rib_b_v, line_color="#e8333a", line_width=1.4)
    elif i == 1:
        p.line(abd_b_t, abd_b_v, line_color=col, line_width=3.5)
    elif i == 2:
        p.line(ic_b_t, ic_b_v, line_color=col, line_width=5, line_alpha=0.25)
        p.line(ic_b_t, ic_b_v, line_color=col, line_width=2.2)
        p.segment(x0=ic_b_beats, x1=ic_b_beats, y0=ic_b_bot, y1=ic_b_top, line_color="#2f7a2f", line_width=1.6)
    elif i == 3:
        p.line(ob_b_t, ob_b_v, line_color=col, line_width=5, line_alpha=0.25)
        p.line(ob_b_t, ob_b_v, line_color=col, line_width=2.2)
        p.segment(x0=ob_b_spike_t, x1=ob_b_spike_t, y0=ob_b_spike_bot, y1=ob_b_spike_top,
                  line_color="#e03fa8", line_width=1.5)
    elif i == 4:
        p.varea(x=ac_b_t, y1=ac_b_lo, y2=ac_b_hi, fill_color=col)
    else:
        p.line(pr_b_t, pr_b_v, line_color=col, line_width=2.5)
    add_box(p, highlight_b, yview_b[i], B_h[i], top_px=2.5 if i == 0 else None, bottom_px=5.3 if last else None)
    if not last:
        lc = left_chrome(36, B_h[i], B_h[i], channel_units[i], 6, True, i > 0)
        rc = right_chrome(92, B_h[i], B_h[i], channel_ids[i], icon_colors[i], 7, 6, 20, 88)
        rowsB.append(row(lc, p, rc))
    else:
        lc = left_chrome(36, B_h[i] + bot, B_h[i], channel_units[i], 6, True, True, 22, 12)
        txt(lc, 30, B_h[i] + 12, "M", "10px", "#111111", align="center", style="bold")
        rc = right_chrome(92, B_h[i] + bot + 12, B_h[i], channel_ids[i], icon_colors[i], 7, 6, 20, 88)
        start_area(rc, B_h[i] + 1, B_h[i] + bot + 12, 92)
        sc = canvas(814, 12)
        sc.quad(left=[0], right=[4], top=[0], bottom=[12], fill_color="#d9e4f2", line_color=None)
        tri(sc, 30, 2.5, 5, "#222222")
        box(sc, 65, 0.5, 712, 11.5, "#ececec", "#d6d6d6")
        txt(sc, 70, 6, "\u25c2", "9px", "#444444", font="DejaVu Sans")
        box(sc, 613, 1, 665, 11, "#e6e6e6", "#a9a9a9")
        txt(sc, 639, 6, "III", "7px", "#555555", align="center")
        txt(sc, 716, 6, "\u25b8", "8px", "#222222", align="center", font="DejaVu Sans")
        box(sc, 725, 0.5, 750, 11.5, "#f8f8f8", "#9a9a9a")
        sc.scatter([729, 746], [6, 6], marker="diamond", size=6, color="#333333")
        box(sc, 734, 2.5, 742, 9.5, "#cfe0f4", "#5a86bb")
        box(sc, 751, 0.5, 765, 11.5, "#f8f8f8", "#9a9a9a")
        sc.scatter([758], [6], marker="triangle", size=6, color="#333333")
        box(sc, 766, 0.5, 798, 11.5, "#f8f8f8", "#9a9a9a")
        txt(sc, 782, 6.5, "100:1", "8px", "#222222", align="center")
        box(sc, 800, 0.5, 812, 11.5, "#f8f8f8", "#9a9a9a")
        sc.scatter([806], [6], marker="triangle", size=7, color="#111111")
        rowsB.append(row(column(row(lc, p), sc), rc))

# ---------------------------------------------------------------- assemble
right_col = column(canvas(906, 25, "white"), header(906, 21, 0, False), *rowsA,
                   canvas(906, 50, "white"), header(906, 20, 5, True), *rowsB)
page = row(lab, right_col)
open("out.html", "w").write(file_html(page, INLINE))
